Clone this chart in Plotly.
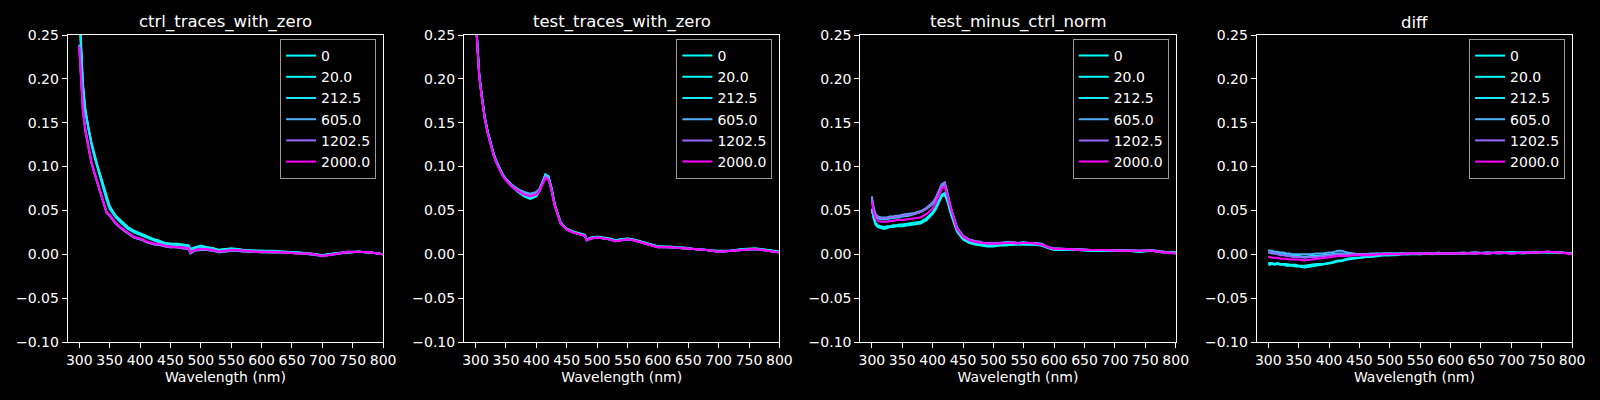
import plotly.graph_objects as go
import plotly.subplots as sp

# concentrations used as legend labels
conc = [0, 20.0, 212.5, 605.0, 1202.5, 2000.0]
conc_labels = ["0", "20.0", "212.5", "605.0", "1202.5", "2000.0"]

wavelength = [300, 303, 306, 310, 315, 320, 325, 330, 335, 340, 345, 350, 360, 370, 380,
              390, 400, 405, 410, 415, 420, 425, 430, 440, 450, 460, 470, 480, 483, 490,
              500, 510, 520, 530, 540, 550, 560, 570, 580, 590, 600, 620, 640, 660, 680,
              700, 720, 740, 760, 780, 800]

# ctrl_traces_with_zero
ctrl_0 = [0.285, 0.235, 0.195, 0.166, 0.144, 0.128, 0.114, 0.101, 0.090, 0.078, 0.065, 0.055, 0.044, 0.037, 0.031,
          0.027, 0.024, 0.022, 0.021, 0.019, 0.018, 0.017, 0.016, 0.013, 0.012, 0.012, 0.011, 0.010, 0.006, 0.008,
          0.010, 0.008, 0.007, 0.005, 0.006, 0.007, 0.006, 0.005, 0.005, 0.004, 0.004, 0.004, 0.003, 0.002, 0.001,
          -0.001, 0.001, 0.003, 0.003, 0.002, 0.000]
ctrl_20 = [0.280, 0.232, 0.193, 0.164, 0.143, 0.127, 0.113, 0.100, 0.089, 0.077, 0.064, 0.054, 0.043, 0.036, 0.030,
           0.026, 0.023, 0.022, 0.020, 0.019, 0.017, 0.016, 0.015, 0.013, 0.012, 0.011, 0.011, 0.010, 0.005, 0.008,
           0.009, 0.008, 0.007, 0.005, 0.006, 0.006, 0.006, 0.005, 0.004, 0.004, 0.004, 0.003, 0.003, 0.002, 0.001,
           -0.001, 0.001, 0.002, 0.003, 0.002, 0.000]
ctrl_212 = [0.276, 0.228, 0.190, 0.162, 0.141, 0.125, 0.111, 0.098, 0.087, 0.075, 0.062, 0.052, 0.042, 0.035, 0.029,
            0.025, 0.022, 0.021, 0.019, 0.018, 0.016, 0.015, 0.014, 0.012, 0.011, 0.011, 0.010, 0.009, 0.005, 0.007,
            0.009, 0.007, 0.006, 0.004, 0.005, 0.006, 0.005, 0.005, 0.004, 0.004, 0.003, 0.003, 0.002, 0.002, 0.000,
            -0.001, 0.001, 0.002, 0.003, 0.002, 0.000]
ctrl_605 = [0.239, 0.197, 0.166, 0.143, 0.122, 0.105, 0.093, 0.081, 0.069, 0.057, 0.048, 0.044, 0.035, 0.029, 0.024,
            0.019, 0.017, 0.016, 0.014, 0.013, 0.012, 0.011, 0.011, 0.009, 0.008, 0.008, 0.007, 0.006, 0.001, 0.004,
            0.005, 0.005, 0.004, 0.002, 0.003, 0.004, 0.004, 0.003, 0.003, 0.003, 0.002, 0.002, 0.002, 0.001, 0.000,
            -0.002, 0.000, 0.002, 0.003, 0.002, 0.000]
ctrl_1202 = [0.236, 0.193, 0.163, 0.140, 0.120, 0.104, 0.092, 0.080, 0.068, 0.056, 0.047, 0.044, 0.035, 0.029, 0.024,
             0.019, 0.017, 0.016, 0.014, 0.013, 0.012, 0.011, 0.011, 0.009, 0.008, 0.008, 0.007, 0.006, 0.002, 0.005,
             0.006, 0.005, 0.004, 0.003, 0.004, 0.005, 0.004, 0.004, 0.003, 0.003, 0.003, 0.002, 0.002, 0.001, 0.000,
             -0.002, 0.000, 0.002, 0.003, 0.002, 0.000]
ctrl_2000 = [0.237, 0.195, 0.165, 0.142, 0.122, 0.105, 0.093, 0.081, 0.069, 0.057, 0.048, 0.045, 0.036, 0.030, 0.025,
             0.020, 0.018, 0.017, 0.015, 0.014, 0.013, 0.012, 0.012, 0.010, 0.009, 0.008, 0.008, 0.007, 0.002, 0.005,
             0.006, 0.006, 0.005, 0.003, 0.004, 0.005, 0.005, 0.004, 0.004, 0.003, 0.003, 0.003, 0.002, 0.001, 0.001,
             -0.002, 0.000, 0.003, 0.003, 0.002, 0.000]

# test_traces_with_zero
test_0 = [0.275, 0.236, 0.206, 0.183, 0.157, 0.140, 0.126, 0.114, 0.105, 0.097, 0.090, 0.085, 0.077, 0.071, 0.066,
          0.063, 0.066, 0.072, 0.082, 0.091, 0.089, 0.076, 0.058, 0.036, 0.029, 0.026, 0.024, 0.022, 0.017, 0.019,
          0.020, 0.019, 0.018, 0.016, 0.017, 0.018, 0.017, 0.015, 0.013, 0.011, 0.009, 0.009, 0.007, 0.006, 0.005,
          0.003, 0.004, 0.006, 0.007, 0.005, 0.003]
test_20 = [0.274, 0.235, 0.205, 0.182, 0.156, 0.139, 0.125, 0.113, 0.104, 0.096, 0.090, 0.085, 0.078, 0.072, 0.067,
           0.064, 0.067, 0.072, 0.081, 0.090, 0.088, 0.075, 0.057, 0.036, 0.029, 0.026, 0.023, 0.022, 0.016, 0.019,
           0.020, 0.018, 0.017, 0.016, 0.017, 0.017, 0.016, 0.015, 0.013, 0.011, 0.009, 0.008, 0.007, 0.006, 0.005,
           0.003, 0.004, 0.005, 0.006, 0.005, 0.003]
test_212 = [0.273, 0.234, 0.205, 0.182, 0.157, 0.140, 0.126, 0.114, 0.105, 0.097, 0.091, 0.086, 0.079, 0.074, 0.070,
            0.068, 0.070, 0.074, 0.082, 0.091, 0.088, 0.075, 0.057, 0.036, 0.029, 0.026, 0.024, 0.022, 0.017, 0.019,
            0.020, 0.019, 0.018, 0.016, 0.017, 0.018, 0.017, 0.015, 0.013, 0.011, 0.009, 0.008, 0.008, 0.006, 0.005,
            0.004, 0.004, 0.006, 0.006, 0.005, 0.003]
test_605 = [0.272, 0.234, 0.204, 0.181, 0.156, 0.139, 0.125, 0.113, 0.104, 0.096, 0.090, 0.086, 0.079, 0.074, 0.071,
            0.069, 0.071, 0.074, 0.082, 0.090, 0.087, 0.074, 0.057, 0.036, 0.029, 0.025, 0.023, 0.021, 0.016, 0.018,
            0.019, 0.018, 0.017, 0.015, 0.016, 0.017, 0.016, 0.014, 0.012, 0.010, 0.008, 0.008, 0.007, 0.006, 0.005,
            0.003, 0.004, 0.005, 0.006, 0.004, 0.002]
test_1202 = [0.271, 0.233, 0.203, 0.180, 0.155, 0.138, 0.124, 0.112, 0.103, 0.095, 0.089, 0.085, 0.078, 0.073, 0.069,
             0.067, 0.069, 0.073, 0.081, 0.088, 0.086, 0.073, 0.056, 0.035, 0.028, 0.025, 0.023, 0.021, 0.016, 0.018,
             0.019, 0.018, 0.017, 0.015, 0.016, 0.017, 0.016, 0.014, 0.012, 0.010, 0.008, 0.008, 0.007, 0.006, 0.005,
             0.003, 0.004, 0.005, 0.006, 0.004, 0.002]
test_2000 = [0.270, 0.232, 0.203, 0.180, 0.155, 0.138, 0.124, 0.112, 0.103, 0.095, 0.089, 0.084, 0.077, 0.072, 0.068,
             0.066, 0.068, 0.072, 0.080, 0.087, 0.085, 0.073, 0.056, 0.035, 0.028, 0.025, 0.023, 0.021, 0.016, 0.018,
             0.019, 0.018, 0.017, 0.015, 0.016, 0.017, 0.016, 0.014, 0.012, 0.010, 0.008, 0.008, 0.007, 0.006, 0.005,
             0.003, 0.004, 0.005, 0.006, 0.004, 0.002]

# test_minus_ctrl_norm
norm_0 = [0.050, 0.040, 0.034, 0.031, 0.030, 0.029, 0.030, 0.031, 0.031, 0.032, 0.032, 0.032, 0.033, 0.034, 0.035,
          0.039, 0.046, 0.051, 0.058, 0.066, 0.068, 0.059, 0.046, 0.026, 0.017, 0.013, 0.011, 0.010, 0.009, 0.009,
          0.009, 0.010, 0.010, 0.011, 0.011, 0.011, 0.011, 0.011, 0.010, 0.007, 0.005, 0.005, 0.005, 0.004, 0.004,
          0.004, 0.004, 0.003, 0.004, 0.002, 0.002]
norm_20 = [0.052, 0.041, 0.036, 0.033, 0.032, 0.031, 0.032, 0.032, 0.033, 0.033, 0.034, 0.034, 0.035, 0.036, 0.037,
           0.041, 0.048, 0.053, 0.060, 0.068, 0.070, 0.061, 0.047, 0.027, 0.018, 0.014, 0.012, 0.011, 0.010, 0.010,
           0.010, 0.011, 0.011, 0.011, 0.012, 0.012, 0.012, 0.011, 0.010, 0.007, 0.006, 0.005, 0.005, 0.004, 0.004,
           0.004, 0.004, 0.003, 0.004, 0.002, 0.002]
norm_212 = [0.062, 0.050, 0.044, 0.041, 0.040, 0.040, 0.040, 0.041, 0.041, 0.042, 0.042, 0.043, 0.044, 0.046, 0.048,
            0.052, 0.057, 0.062, 0.070, 0.078, 0.080, 0.068, 0.052, 0.030, 0.020, 0.016, 0.014, 0.013, 0.012, 0.012,
            0.012, 0.013, 0.013, 0.013, 0.013, 0.013, 0.013, 0.012, 0.011, 0.008, 0.006, 0.006, 0.005, 0.005, 0.005,
            0.004, 0.004, 0.004, 0.004, 0.003, 0.002]
norm_605 = [0.066, 0.053, 0.046, 0.043, 0.042, 0.042, 0.042, 0.043, 0.043, 0.044, 0.044, 0.045, 0.046, 0.047, 0.049,
            0.053, 0.059, 0.064, 0.072, 0.080, 0.082, 0.069, 0.053, 0.031, 0.021, 0.017, 0.015, 0.014, 0.013, 0.013,
            0.013, 0.013, 0.014, 0.014, 0.013, 0.014, 0.013, 0.013, 0.012, 0.008, 0.007, 0.006, 0.006, 0.005, 0.005,
            0.005, 0.005, 0.004, 0.005, 0.003, 0.002]
norm_1202 = [0.064, 0.051, 0.045, 0.042, 0.041, 0.041, 0.041, 0.042, 0.042, 0.043, 0.043, 0.044, 0.045, 0.046, 0.048,
             0.052, 0.058, 0.063, 0.071, 0.079, 0.081, 0.068, 0.052, 0.030, 0.021, 0.017, 0.015, 0.014, 0.013, 0.013,
             0.013, 0.013, 0.013, 0.014, 0.013, 0.013, 0.013, 0.012, 0.011, 0.008, 0.007, 0.006, 0.006, 0.005, 0.005,
             0.005, 0.004, 0.004, 0.005, 0.003, 0.001]
norm_2000 = [0.060, 0.047, 0.041, 0.038, 0.037, 0.037, 0.037, 0.038, 0.038, 0.039, 0.039, 0.039, 0.040, 0.041, 0.042,
             0.046, 0.052, 0.058, 0.066, 0.075, 0.077, 0.065, 0.050, 0.029, 0.020, 0.016, 0.014, 0.013, 0.012, 0.012,
             0.012, 0.012, 0.013, 0.013, 0.012, 0.013, 0.013, 0.012, 0.011, 0.008, 0.006, 0.006, 0.005, 0.005, 0.005,
             0.004, 0.004, 0.004, 0.004, 0.002, 0.001]

# diff
diff_0 = [-0.012, -0.012, -0.011, -0.012, -0.011, -0.012, -0.012, -0.013, -0.013, -0.013, -0.014, -0.014, -0.015, -0.014, -0.013,
          -0.012, -0.011, -0.010, -0.009, -0.008, -0.008, -0.007, -0.006, -0.005, -0.004, -0.003, -0.003, -0.002, -0.002, -0.001,
          -0.001, -0.001, 0.000, 0.000, 0.000, 0.000, 0.001, 0.000, 0.001, 0.001, 0.001, 0.001, 0.001, 0.002, 0.001,
          0.002, 0.002, 0.002, 0.002, 0.002, 0.001]
diff_20 = [-0.010, -0.010, -0.010, -0.011, -0.010, -0.011, -0.011, -0.011, -0.012, -0.012, -0.012, -0.013, -0.013, -0.012, -0.011,
           -0.011, -0.010, -0.009, -0.008, -0.007, -0.007, -0.006, -0.005, -0.004, -0.004, -0.003, -0.002, -0.002, -0.001, -0.001,
           -0.001, 0.000, 0.000, 0.000, 0.001, 0.000, 0.001, 0.001, 0.001, 0.001, 0.001, 0.001, 0.002, 0.001, 0.002,
           0.002, 0.002, 0.003, 0.002, 0.002, 0.001]
diff_212 = [0.002, 0.002, 0.001, 0.001, 0.001, 0.000, 0.000, -0.001, -0.001, -0.002, -0.002, -0.002, -0.003, -0.002, -0.002,
            -0.001, 0.000, 0.000, 0.001, 0.001, 0.001, 0.000, 0.000, 0.000, 0.000, 0.000, 0.000, 0.001, 0.000, 0.001,
            0.001, 0.001, 0.001, 0.001, 0.001, 0.001, 0.001, 0.001, 0.001, 0.001, 0.001, 0.001, 0.002, 0.001, 0.002,
            0.002, 0.001, 0.002, 0.003, 0.002, 0.001]
diff_605 = [0.005, 0.004, 0.004, 0.003, 0.003, 0.002, 0.002, 0.001, 0.001, 0.000, 0.000, 0.000, 0.000, 0.000, 0.001,
            0.001, 0.002, 0.002, 0.003, 0.004, 0.004, 0.003, 0.002, 0.001, 0.000, 0.000, 0.001, 0.001, 0.001, 0.001,
            0.001, 0.001, 0.001, 0.001, 0.001, 0.001, 0.001, 0.001, 0.002, 0.001, 0.001, 0.002, 0.001, 0.002, 0.002,
            0.001, 0.002, 0.002, 0.003, 0.002, 0.001]
diff_1202 = [0.003, 0.002, 0.002, 0.001, 0.000, -0.001, -0.001, -0.002, -0.002, -0.003, -0.003, -0.003, -0.004, -0.003, -0.003,
             -0.002, -0.001, -0.001, 0.000, 0.000, 0.000, 0.000, -0.001, 0.000, 0.000, 0.000, 0.000, 0.000, 0.000, 0.000,
             0.001, 0.000, 0.001, 0.001, 0.001, 0.001, 0.001, 0.001, 0.001, 0.001, 0.001, 0.001, 0.002, 0.001, 0.002,
             0.001, 0.002, 0.002, 0.003, 0.002, 0.001]
diff_2000 = [-0.003, -0.003, -0.004, -0.004, -0.004, -0.005, -0.005, -0.005, -0.006, -0.006, -0.006, -0.006, -0.007, -0.006, -0.005,
             -0.004, -0.003, -0.003, -0.002, -0.002, -0.002, -0.002, -0.002, -0.001, -0.001, -0.001, -0.001, 0.000, 0.000, 0.000,
             0.000, 0.000, 0.000, 0.001, 0.001, 0.001, 0.001, 0.001, 0.001, 0.001, 0.001, 0.001, 0.001, 0.001, 0.002,
             0.001, 0.002, 0.002, 0.003, 0.002, 0.000]

panels = [
    ("ctrl_traces_with_zero", [ctrl_0, ctrl_20, ctrl_212, ctrl_605, ctrl_1202, ctrl_2000]),
    ("test_traces_with_zero", [test_0, test_20, test_212, test_605, test_1202, test_2000]),
    ("test_minus_ctrl_norm", [norm_0, norm_20, norm_212, norm_605, norm_1202, norm_2000]),
    ("diff", [diff_0, diff_20, diff_212, diff_605, diff_1202, diff_2000]),
]


def cool(t):
    # matplotlib "cool" colormap: cyan -> magenta
    i = int(t * 255)
    return "rgb(%d,%d,255)" % (i, 255 - i)


colors = [cool(c / max(conc)) for c in conc]

FONT = "DejaVu Sans"
W, H = 1600, 400
lefts = [67.7, 464.0, 860.3, 1256.7]
panel_w = 315.4
top_px, bottom_px = 35, 342

fig = sp.make_subplots(rows=1, cols=4, subplot_titles=[p[0] for p in panels])

for k, (title, series) in enumerate(panels):
    legend_name = "legend" if k == 0 else "legend%d" % (k + 1)
    for label, ys, col in zip(conc_labels, series, colors):
        fig.add_trace(
            go.Scatter(
                x=wavelength,
                y=ys,
                mode="lines",
                name=label,
                line=dict(color=col, width=2),
                legend=legend_name,
            ),
            row=1, col=k + 1
        )

    x0 = lefts[k] / W
    x1 = (lefts[k] + panel_w) / W
    axis_suffix = "" if k == 0 else str(k + 1)
    fig.layout["xaxis" + axis_suffix].update(
        domain=[x0, x1],
        range=[281, 800],
        dtick=50,
        tick0=300,
        title=dict(text="Wavelength (nm)", font=dict(size=14, color="white"), standoff=5),
    )
    fig.layout["yaxis" + axis_suffix].update(
        domain=[1 - bottom_px / H, 1 - top_px / H],
        range=[-0.1, 0.25],
        dtick=0.05,
        tickformat=".2f",
    )

    # subplot title
    ann = fig.layout.annotations[k]
    ann.update(x=(x0 + x1) / 2, y=1 - 34 / H, yanchor="bottom",
               font=dict(family=FONT, size=16.5, color="white"))

    # legend inside upper right of each panel
    fig.layout[legend_name] = dict(
        x=(lefts[k] + panel_w - 7) / W,
        y=1 - 39 / H,
        xanchor="right",
        yanchor="top",
        bgcolor="rgba(0,0,0,0.8)",
        bordercolor="#9a9a9a",
        borderwidth=1,
        font=dict(family=FONT, size=14, color="white"),
        tracegroupgap=0,
    )

fig.update_xaxes(
    showgrid=False, zeroline=False, automargin=False,
    showline=True, mirror=True, linecolor="white", linewidth=1,
    ticks="outside", ticklen=5, tickwidth=1, tickcolor="white",
    tickfont=dict(family=FONT, size=14, color="white"),
)
fig.update_yaxes(
    showgrid=False, zeroline=False, automargin=False,
    showline=True, mirror=True, linecolor="white", linewidth=1,
    ticks="outside", ticklen=5, tickwidth=1, tickcolor="white",
    tickfont=dict(family=FONT, size=14, color="white"),
)

fig.update_layout(
    width=W, height=H,
    margin=dict(l=0, r=0, t=0, b=0, autoexpand=False),
    paper_bgcolor="black",
    plot_bgcolor="black",
    font=dict(family=FONT, color="white"),
    showlegend=True,
)

# remove the default page margin so the figure sits at the window origin
fig.write_html(
    "out.html",
    config={"displayModeBar": False},
    post_script="document.body.style.margin='0';document.body.style.background='black';",
)
